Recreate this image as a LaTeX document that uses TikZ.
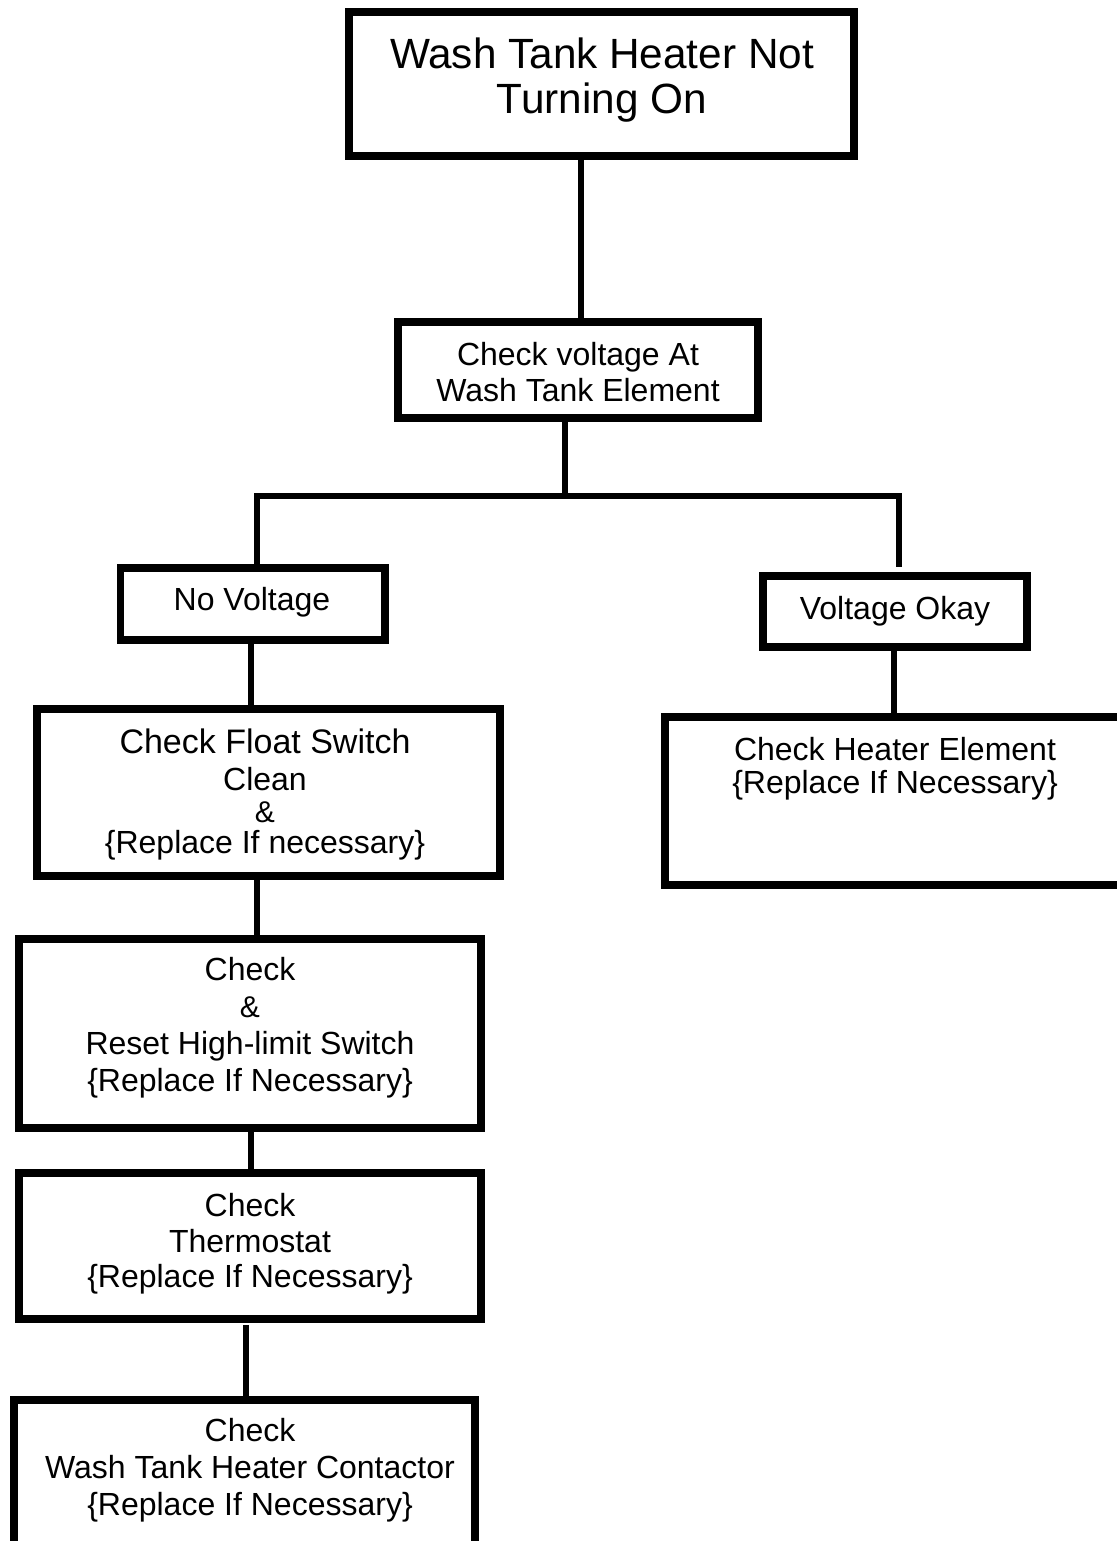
\documentclass[tikz,border=0pt]{standalone}
\usepackage{fontspec}
\setmainfont{Liberation Sans}
\begin{document}
\begin{tikzpicture}[x=0.5pt,y=-0.5pt,
  box/.style={draw=black, line width=3.75pt, inner sep=0pt, outer sep=0pt},
  conn/.style={draw=black, line width=3pt, line join=miter, line cap=butt},
  txt/.style={inner sep=0pt, outer sep=0pt, align=center, font=\fontsize{16}{18.5}\selectfont},
  amp/.style={}]
\useasboundingbox (0,0) rectangle (1116,1541);
\fill[white] (0,0) rectangle (1116,1541);

% boxes
\node[box, line width=4pt, minimum width=252.5pt, minimum height=72pt] (b1) at (601.5,84) {};
\node[box, minimum width=180pt, minimum height=48pt] (b2) at (578,370) {};
\node[box, minimum width=132.25pt, minimum height=36pt] (nv) at (252.75,604) {};
\node[box, minimum width=132pt, minimum height=35.5pt] (vo) at (895,611.5) {};
\node[box, minimum width=230pt, minimum height=84pt] (he) at (895,801) {};
\node[box, minimum width=231.5pt, minimum height=83.5pt] (fl) at (268.5,792.5) {};
\node[box, minimum width=231pt, minimum height=94.5pt] (hl) at (250,1033.5) {};
\node[box, minimum width=231pt, minimum height=73pt] (th) at (250,1246) {};
\node[box, minimum width=230.5pt, minimum height=100pt] (bt) at (244.5,1500) {};

% texts
\node[txt, font=\fontsize{21.15}{22.5}\selectfont] (t1) at (602,80.5) {Wash Tank Heater Not\\Turning On};
\node[txt, font=\fontsize{16}{18}\selectfont] (t2) at (578,372) {Check voltage At\\Wash Tank Element};
\node[txt] (t3) at (252,602.5) {No Voltage};
\node[txt] (t4) at (895,611.5) {Voltage Okay};
\node[txt, font=\fontsize{16}{16.5}\selectfont] (t5) at (895,768.3) {Check Heater Element\\\{Replace If Necessary\}};
\node[txt] (t6) at (265,794) {{\fontsize{17}{18.5}\selectfont Check Float Switch}\\Clean\\[-2.5pt]{\fontsize{15}{16}\selectfont\&}\\[-3pt]\{Replace If necessary\}};
\node[txt] (t7) at (250,1028.2) {Check\\{\fontsize{15}{16}\selectfont\&}\\Reset High-limit Switch\\\{Replace If Necessary\}};
\node[txt, font=\fontsize{16}{17.75}\selectfont] (t8) at (250,1244.2) {Check\\Thermostat\\\{Replace If Necessary\}};
\node[txt] (t9) at (250,1470.2) {Check\\Wash Tank Heater Contactor\\\{Replace If Necessary\}};

% connector x positions and free ends
\coordinate (x1) at (581,0);
\coordinate (x2) at (565,0);
\coordinate (xl) at (257,0);
\coordinate (jn) at (565,496);
\coordinate (rc) at (899,496);
\coordinate (vend) at (899,567);
\coordinate (x3) at (251,0);
\coordinate (x4) at (894,0);
\coordinate (x5) at (256.5,0);
\coordinate (x6) at (251,0);
\coordinate (tb) at (246,1325);

% connectors
\draw[conn] (b1.south -| x1) -- (b2.north -| x1);
\draw[conn] (b2.south -| x2) -- (jn);
\draw[conn] (nv.north -| xl) |- (rc) -- (vend);
\draw[conn] (nv.south -| x3) -- (fl.north -| x3);
\draw[conn] (vo.south -| x4) -- (he.north -| x4);
\draw[conn] (fl.south -| x5) -- (hl.north -| x5);
\draw[conn] (hl.south -| x6) -- (th.north -| x6);
\draw[conn] (tb) -- (bt.north -| tb);
\end{tikzpicture}
\end{document}
